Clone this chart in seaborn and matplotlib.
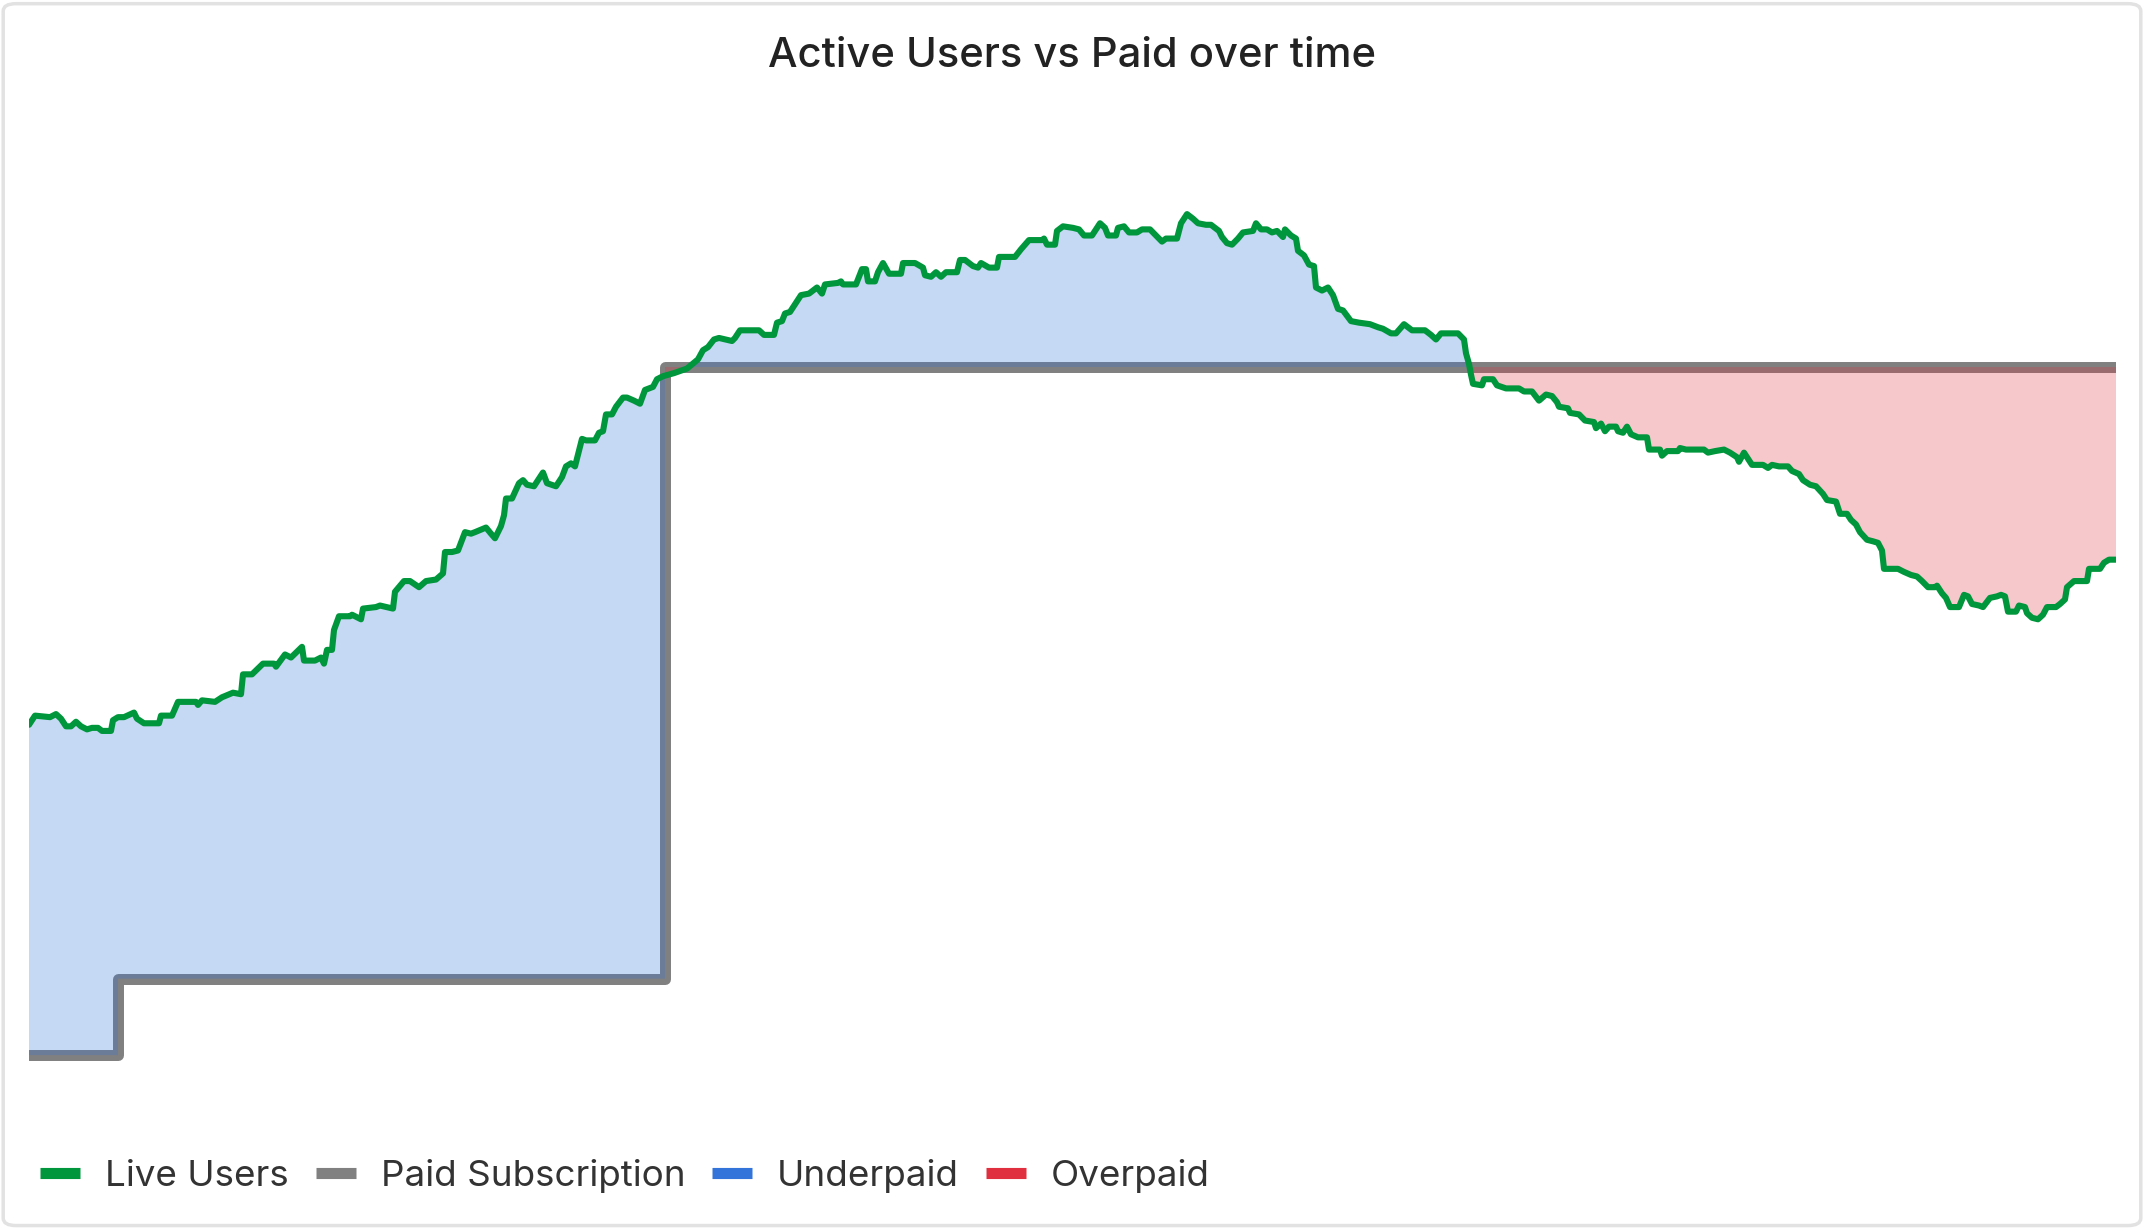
import numpy as np
import matplotlib.pyplot as plt
import seaborn as sns
from matplotlib.lines import Line2D
from matplotlib.patches import FancyBboxPatch

# hours since start / concurrent live users
hours = [0, 6, 21, 27, 32, 37, 42, 47, 52, 58,
         63, 69, 73, 82, 84, 89, 95, 105, 108, 115,
         130, 132, 143, 149, 167, 169, 173, 186, 193, 204,
         212, 214, 223, 234, 245, 247, 256, 262, 273, 275,
         286, 292, 295, 298, 303, 305, 310, 321, 323, 332,
         334, 347, 351, 364, 366, 375, 381, 390, 397, 407,
         414, 416, 423, 429, 436, 442, 446, 457, 462, 466,
         472, 475, 477, 483, 490, 494, 498, 505, 514, 518,
         527, 533, 537, 542, 546, 553, 557, 566, 570, 574,
         577, 583, 587, 594, 598, 605, 611, 616, 624, 628,
         631, 634, 645, 658, 669, 674, 679, 685, 690, 703,
         706, 711, 730, 735, 745, 748, 753, 756, 761, 767,
         772, 780, 788, 793, 796, 809, 812, 814, 827, 830,
         833, 837, 839, 846, 849, 854, 860, 872, 874, 886,
         894, 896, 902, 907, 912, 917, 928, 931, 936, 944,
         949, 952, 960, 968, 970, 986, 992, 1000, 1013, 1015,
         1018, 1026, 1028, 1034, 1044, 1050, 1055, 1063, 1071, 1076,
         1079, 1087, 1089, 1095, 1100, 1108, 1113, 1121, 1127, 1133,
         1137, 1148, 1152, 1158, 1164, 1169, 1177, 1182, 1190, 1193,
         1198, 1203, 1209, 1214, 1224, 1227, 1232, 1238, 1243, 1248,
         1254, 1256, 1262, 1267, 1269, 1275, 1280, 1285, 1287, 1293,
         1299, 1304, 1309, 1314, 1322, 1330, 1341, 1349, 1354, 1362,
         1367, 1375, 1383, 1396, 1402, 1407, 1412, 1429, 1435, 1437,
         1440, 1442, 1444, 1453, 1455, 1464, 1468, 1477, 1490, 1495,
         1503, 1510, 1517, 1523, 1528, 1530, 1539, 1541, 1550, 1556,
         1565, 1567, 1572, 1576, 1580, 1587, 1589, 1594, 1598, 1602,
         1609, 1618, 1620, 1631, 1633, 1638, 1649, 1651, 1657, 1675,
         1679, 1686, 1695, 1701, 1708, 1710, 1715, 1719, 1723, 1734,
         1739, 1743, 1750, 1759, 1763, 1770, 1774, 1781, 1787, 1794,
         1798, 1807, 1811, 1818, 1822, 1827, 1831, 1838, 1844, 1849,
         1853, 1855, 1869, 1875, 1882, 1888, 1893, 1899, 1906, 1908,
         1913, 1917, 1921, 1930, 1935, 1939, 1943, 1950, 1954, 1961,
         1968, 1972, 1976, 1979, 1987, 1990, 1996, 1998, 2003, 2009,
         2014, 2018, 2027, 2031, 2036, 2038, 2045, 2058, 2060, 2071,
         2075, 2080, 2087]
live_users = [316, 322, 321, 323, 320, 315, 315, 318, 315, 313,
              314, 314, 312, 312, 319, 321, 321, 324, 320, 317,
              317, 322, 322, 331, 331, 329, 332, 331, 334, 337,
              336, 349, 349, 356, 356, 354, 362, 360, 367, 358,
              358, 360, 356, 365, 365, 378, 387, 387, 388, 385,
              392, 393, 394, 392, 403, 410, 410, 406, 410, 411,
              415, 429, 429, 430, 442, 441, 442, 445, 441, 438,
              446, 453, 464, 464, 474, 476, 473, 472, 481, 474,
              472, 478, 485, 487, 485, 503, 502, 502, 507, 508,
              519, 519, 524, 530, 530, 528, 526, 535, 537, 542,
              543, 544, 546, 549, 555, 561, 563, 568, 569, 567,
              569, 574, 574, 571, 571, 579, 580, 585, 586, 592,
              597, 598, 602, 598, 604, 605, 606, 604, 604, 609,
              614, 614, 606, 606, 612, 618, 611, 611, 618, 618,
              615, 610, 609, 612, 609, 612, 612, 620, 620, 616,
              615, 618, 615, 615, 622, 622, 627, 633, 633, 634,
              630, 630, 639, 642, 641, 640, 636, 636, 644, 641,
              636, 636, 641, 642, 638, 638, 640, 640, 636, 632,
              634, 634, 644, 650, 647, 644, 643, 643, 639, 635,
              631, 630, 634, 638, 639, 644, 640, 640, 638, 639,
              635, 640, 636, 634, 626, 623, 617, 616, 602, 600,
              602, 597, 588, 587, 580, 579, 578, 576, 575, 572,
              572, 578, 574, 574, 571, 568, 572, 572, 568, 559,
              552, 545, 539, 538, 542, 542, 538, 536, 536, 534,
              534, 528, 532, 531, 527, 524, 523, 520, 519, 515,
              514, 510, 513, 508, 511, 511, 508, 507, 511, 506,
              504, 504, 496, 496, 492, 495, 495, 497, 496, 496,
              494, 495, 496, 494, 491, 488, 494, 490, 486, 486,
              484, 486, 485, 485, 482, 480, 476, 473, 472, 467,
              463, 462, 454, 454, 450, 447, 442, 437, 436, 435,
              430, 418, 418, 416, 414, 413, 410, 406, 406, 407,
              402, 399, 393, 393, 401, 400, 395, 394, 393, 399,
              400, 401, 400, 390, 390, 394, 393, 389, 386, 385,
              388, 393, 393, 395, 398, 406, 410, 410, 418, 418,
              422, 424, 424]

# paid subscription seats (step changes)
paid_hours = [0, 89, 636, 2087]
paid_seats = [100, 150, 550, 550]

legend_labels = ["Live Users", "Paid Subscription", "Underpaid", "Overpaid"]
legend_colors = ["#00963c", "#808080", "#3274d9", "#e03040"]

sns.set_theme(style="white")
plt.rcParams['font.family'] = ['Inter', 'DejaVu Sans']

fig = plt.figure(figsize=(21.44, 12.28), dpi=100)
fig.patch.set_facecolor("white")
card = FancyBboxPatch((0.0015, 0.002), 0.997, 0.995,
                      boxstyle="round,pad=0,rounding_size=0.006",
                      transform=fig.transFigure, fc="white", ec="#e2e2e2", lw=2.5,
                      zorder=-10)
fig.patches.append(card)

ax = fig.add_axes([29 / 2144, 148 / 1228, 2087 / 2144, 900 / 1228])
ax.set_facecolor("none")

# paid subscription step line
sns.lineplot(x=paid_hours, y=paid_seats, ax=ax, color="#808080", lw=7.9,
             drawstyle="steps-post", zorder=1, estimator=None, sort=False)

# fill between live users and paid seats
t = np.array(hours, dtype=float)
u = np.array(live_users, dtype=float)
grid = np.union1d(t, [88.999, 89, 635.999, 636])
live_g = np.interp(grid, t, u)
idx = np.searchsorted(paid_hours, grid, side="right") - 1
paid_g = np.array(paid_seats, dtype=float)[np.clip(idx, 0, len(paid_seats) - 1)]

ax.fill_between(grid, live_g, paid_g, where=live_g >= paid_g, interpolate=True,
                color="#3274d9", alpha=0.28, lw=0, zorder=2)
ax.fill_between(grid, live_g, paid_g, where=live_g <= paid_g, interpolate=True,
                color="#e03040", alpha=0.27, lw=0, zorder=2)

# live users
sns.lineplot(x=hours, y=live_users, ax=ax, color="#00963c", lw=4.4,
             zorder=3, estimator=None, sort=False, solid_joinstyle="round")

ax.set_xlim(0, 2087)
ax.set_ylim(83.7, 672.3)
ax.axis("off")

fig.text(0.5, 1 - 56 / 1228, "Active Users vs Paid over time", ha="center", va="center",
         fontsize=30, fontweight="medium", color="#222222")

handles = [Line2D([0], [0], color=c, lw=8, solid_capstyle="butt") for c in legend_colors]
fig.legend(handles, legend_labels, loc="center left",
           bbox_to_anchor=(40 / 2144, 1 - 1176 / 1228), ncol=4, frameon=False,
           fontsize=26.5, handlelength=1.08, handletextpad=0.68, columnspacing=0.74,
           borderpad=0, borderaxespad=0, labelcolor="#333333")

fig.savefig("out.png", dpi=100)
